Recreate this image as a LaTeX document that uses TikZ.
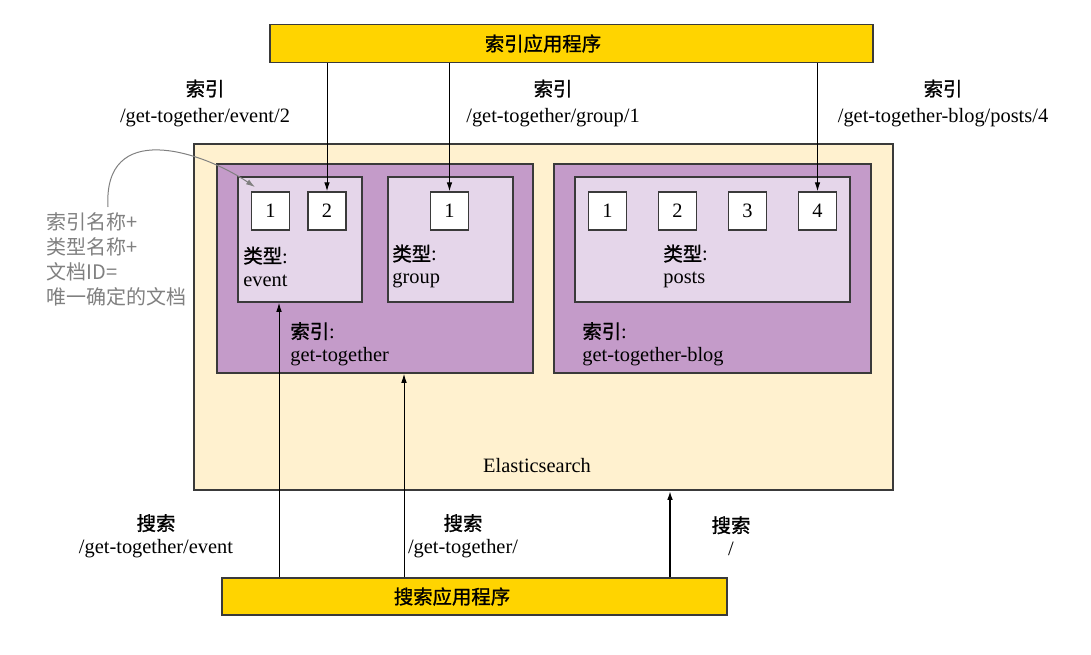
\documentclass[tikz,border=0pt]{standalone}
\usepackage{fontspec}
\setmainfont{Liberation Serif}
\newfontfamily\cjk[Scale=0.95,FakeBold=1.2]{Noto Sans CJK SC}
\newfontfamily\notefont{Noto Sans CJK SC}
\usetikzlibrary{arrows.meta}
\definecolor{appyellow}{RGB}{255,212,0}
\definecolor{escream}{RGB}{255,241,207}
\definecolor{idxpurple}{RGB}{196,155,201}
\definecolor{typelilac}{RGB}{229,214,234}
\definecolor{edgegray}{RGB}{58,58,58}
\definecolor{notegray}{RGB}{128,128,128}

\begin{document}
\begin{tikzpicture}[x=0.5pt,y=-0.5pt,
  every node/.style={font=\fontsize{10.2}{11.5}\selectfont},
  appbar/.style={draw=edgegray,line width=0.75pt,fill=appyellow,inner sep=0},
  esbox/.style={draw=edgegray,line width=0.75pt,fill=escream,inner sep=0},
  idxbox/.style={draw=edgegray,line width=0.75pt,fill=idxpurple,inner sep=0,
                 minimum width=158pt,minimum height=104.5pt},
  typebox/.style={draw=edgegray,line width=0.75pt,fill=typelilac,inner sep=0,
                  minimum height=62.5pt},
  docbox/.style={draw=edgegray,line width=0.75pt,fill=white,inner sep=0,
                 minimum width=19pt,minimum height=19pt},
  lbl/.style={align=center,inner sep=0},
  arr/.style={line width=0.5pt,-{Latex[length=4.5pt,width=2.8pt]}}]
\useasboundingbox (0,0) rectangle (1091,654);
\def\dy{211} % row of the documents
\def\ps{70} % spacing of the posts documents

% applications
\node[appbar,minimum width=301.5pt,minimum height=19pt] (appidx) at (571.5,43.5) {};
\node[inner sep=0] (appidxtxt) at (543,43.5) {\cjk 索引应用程序};
\node[appbar,minimum width=252.5pt,minimum height=18.5pt] (appsrch) at (474.5,596.5) {};
\node[inner sep=0] (appsrchtxt) at (452,596.5) {\cjk 搜索应用程序};

% elasticsearch with its two indices
\node[esbox,minimum width=349.5pt,minimum height=173pt] (es) at (543.5,317) {};
\node[inner sep=0] (estxt) at (537,466) {Elasticsearch};
\node[idxbox] (gt) at (375,268.5) {};
\node[idxbox,minimum width=158.5pt] (gtb) at (712.5,268.5) {};
\node[typebox,minimum width=62pt] (evt) at (300,239.5) {};
\node[typebox,minimum width=62.5pt] (grp) at (450.5,239.5) {};
\node[typebox,minimum width=137.5pt] (pst) at (712.5,239.5) {};

% documents
\node[docbox] (ev1) at (270.5,\dy) {1};
\node[docbox] (ev2) at (327,\dy) {2};
\node[docbox] (gr1) at (449.5,\dy) {1};
\foreach \i in {1,...,4}
  \node[docbox] (po\i) at (537.5+\i*\ps,\dy) {\i};

% type and index names
\node[align=left,anchor=west,inner sep=0] (evtxt) at (243,266.5) {{\cjk 类型}:\\event};
\node[align=left,anchor=west,inner sep=0] (grtxt) at (392,266.5) {{\cjk 类型}:\\group};
\node[align=left,anchor=west,inner sep=0] (potxt) at (663,266.5) {{\cjk 类型}:\\posts};
\node[align=left,anchor=west,inner sep=0] (gttxt) at (290,344) {{\cjk 索引}:\\get-together};
\node[align=left,anchor=west,inner sep=0] (gtbtxt) at (582,344) {{\cjk 索引}:\\get-together-blog};

% requests
\node[lbl,font=\fontsize{10.2}{13.5}\selectfont] (q1) at (205,103.5) {{\cjk 索引}\\/get-together/event/2};
\node[lbl,font=\fontsize{10.2}{13.5}\selectfont] (q2) at (553,103.5) {{\cjk 索引}\\/get-together/group/1};
\node[lbl,font=\fontsize{10.2}{13.5}\selectfont] (q3) at (943,103.5) {{\cjk 索引}\\/get-together-blog/posts/4};
\node[lbl] (s1) at (156,536) {{\cjk 搜索}\\/get-together/event};
\node[lbl] (s2) at (463,536) {{\cjk 搜索}\\/get-together/};
\node[lbl] (s3) at (731,536) {{\cjk 搜索}\\/};

\draw[arr] (ev2.north |- appidx.south) -- (ev2.north);
\draw[arr] (gr1.north |- appidx.south) -- (gr1.north);
\draw[arr] (po4.north |- appidx.south) -- (po4.north);

\draw[arr] ([xshift=-10.5pt]evt.south |- appsrch.north) -- ([xshift=-10.5pt]evt.south);
\draw[arr] ([xshift=14.5pt]gt.south |- appsrch.north) -- ([xshift=14.5pt]gt.south);
\draw[arr,line width=0.9pt] ([xshift=63.25pt]es.south |- appsrch.north) -- ([xshift=63.25pt]es.south);

% note on the left
\node[align=left,anchor=west,inner sep=0,text=notegray,
      font=\notefont\fontsize{10}{12.5}\selectfont] (note) at (46,259.5)
  {索引名称+\\类型名称+\\文档ID=\\唯一确定的文档};
\coordinate (cs) at (108,207);
\coordinate (ce) at (255,187);
\draw[arr,notegray] (cs) .. controls (103,120) and (200,150) .. (ce);
\end{tikzpicture}
\end{document}
